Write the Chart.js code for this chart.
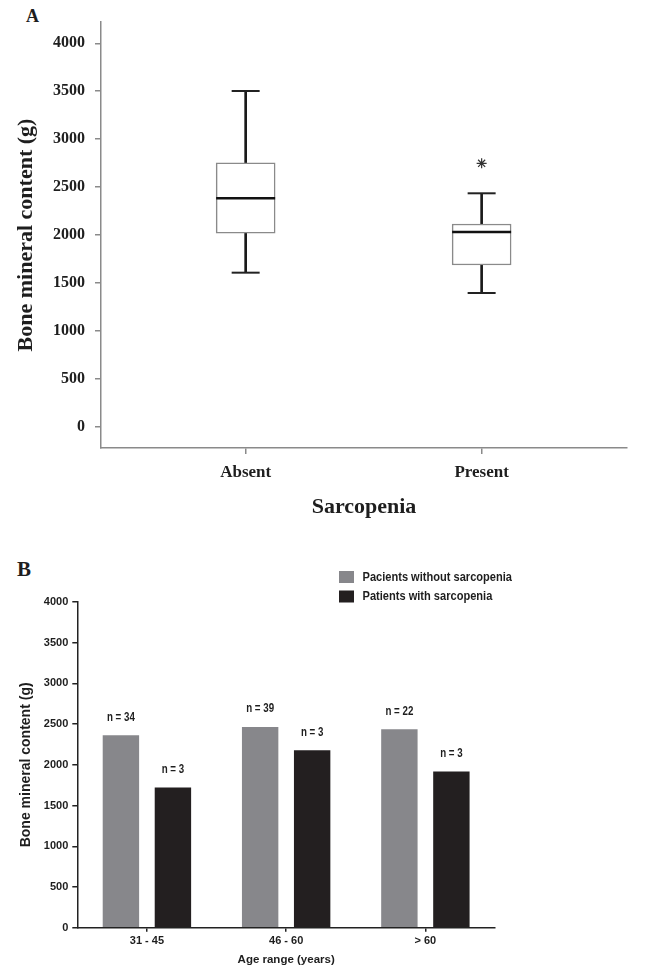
<!DOCTYPE html>
<html>
<head>
<meta charset="utf-8">
<script src="https://cdn.jsdelivr.net/npm/chart.js@4.4.1/dist/chart.umd.min.js"></script>
<style>
  body { margin: 0; background: #fff; width: 653px; height: 968px; position: relative; overflow: hidden; }
  .panel { position: absolute; font-family: 'Liberation Serif', serif; font-weight: bold; color: #1e1e1e; }
  #wrapA { position: absolute; left: 0; top: 0; width: 653px; height: 525px; }
  #wrapB { position: absolute; left: 0; top: 530px; width: 653px; height: 438px; }
</style>
</head>
<body>
<div class="panel" style="left:26px; top:6px; font-size:18px;">A</div>
<div class="panel" style="left:17px; top:557px; font-size:21px;">B</div>
<div id="wrapA"><canvas id="boxChart" width="653" height="525"></canvas></div>
<div id="wrapB"><canvas id="barChart" width="653" height="438"></canvas></div>
<script>
// panel A - box plot values (g)
const groupsA = ['Absent', 'Present'];
const whiskerLow = [1607, 1395];
const quartile1 = [2018, 1687];
const medians = [2383, 2031];
const quartile3 = [2754, 2115];
const whiskerHigh = [3502, 2435];
const outliers = [null, 2748];
const yTicksA = [0, 500, 1000, 1500, 2000, 2500, 3000, 3500, 4000];

// panel B - mean bone mineral content by age range
const ageRanges = ['31 - 45', '46 - 60', '> 60'];
const seriesNames = ['Pacients without sarcopenia', 'Patients with sarcopenia'];
const withoutSarcopenia = [2364, 2466, 2438];
const withSarcopenia = [1723, 2180, 1919];
const nWithout = ['n = 34', 'n = 39', 'n = 22'];
const nWith = ['n = 3', 'n = 3', 'n = 3'];

const serif = "'Liberation Serif', 'Times New Roman', serif";
const sans = "'Liberation Sans', Arial, sans-serif";
const ink = '#1e1e1e';

const pts = (vals) => vals.map((v, i) => ({ x: i + 1, y: v })).filter(p => p.y !== null);

// Box plot: boxes + whiskers are floating bars, caps / median / outlier are point markers
new Chart(document.getElementById('boxChart'), {
    type: 'bar',
    data: {
        datasets: [
            {
                type: 'scatter',
                data: pts(medians),
                pointStyle: 'line',
                pointRadius: 29.5,
                borderColor: '#111',
                pointBorderWidth: 2.5
            },
            {
                type: 'scatter',
                data: pts(whiskerHigh).concat(pts(whiskerLow)),
                pointStyle: 'line',
                pointRadius: 14,
                borderColor: '#222',
                pointBorderWidth: 2
            },
            {
                type: 'scatter',
                data: pts(outliers),
                pointStyle: 'star',
                pointRadius: 5,
                borderColor: '#333',
                pointBorderWidth: 1.2
            },
            {
                data: groupsA.map((g, i) => ({ x: i + 1, y: [quartile1[i], quartile3[i]] })),
                backgroundColor: '#fff',
                borderColor: '#8a8a8a',
                borderWidth: 1.5,
                borderSkipped: false,
                barThickness: 59,
                grouped: false
            },
            {
                data: groupsA.map((g, i) => ({ x: i + 1, y: [quartile3[i], whiskerHigh[i]] }))
                    .concat(groupsA.map((g, i) => ({ x: i + 1, y: [whiskerLow[i], quartile1[i]] }))),
                backgroundColor: '#1a1a1a',
                borderWidth: 0,
                barThickness: 2,
                grouped: false
            }
        ]
    },
    options: {
        responsive: false,
        animation: false,
        events: [],
        layout: { autoPadding: false, padding: { left: 0, top: 22, right: 26, bottom: 0 } },
        plugins: { legend: { display: false }, tooltip: { enabled: false } },
        scales: {
            x: {
                type: 'linear',
                min: 0.387,
                max: 2.616,
                offset: false,
                afterBuildTicks: (s) => { s.ticks = groupsA.map((g, i) => ({ value: i + 1 })); },
                afterFit: (s) => { s.height = 77; },
                ticks: {
                    callback: (v) => groupsA[v - 1],
                    font: { family: serif, size: 17, weight: 'bold' },
                    color: ink,
                    padding: 8,
                    maxRotation: 0,
                    autoSkip: false
                },
                grid: { offset: false, drawOnChartArea: false, tickLength: 6, color: '#8a8a8a', lineWidth: 1.5 },
                border: { color: '#8a8a8a', width: 1.5 },
                title: {
                    display: true,
                    text: 'Sarcopenia',
                    font: { family: serif, size: 22, weight: 'bold' },
                    color: ink,
                    padding: { top: 0, bottom: 4 }
                }
            },
            y: {
                min: -222,
                max: 4222,
                afterBuildTicks: (s) => { s.ticks = yTicksA.map(v => ({ value: v })); },
                afterFit: (s) => { s.width = 101; },
                ticks: {
                    callback: (v) => String(v),
                    font: { family: serif, size: 16, weight: 'bold' },
                    color: ink,
                    padding: 10
                },
                grid: { drawOnChartArea: false, tickLength: 6, color: '#8a8a8a', lineWidth: 1.5 },
                border: { color: '#8a8a8a', width: 1.5 },
                title: {
                    display: true,
                    text: 'Bone mineral content (g)',
                    font: { family: serif, size: 22, weight: 'bold' },
                    color: ink,
                    padding: { top: 13, bottom: 0 }
                }
            }
        }
    }
});

// draws text squeezed horizontally, the original uses a condensed face
function narrowText(ctx, text, x, y, squeeze) {
    ctx.save();
    ctx.translate(x, y);
    ctx.scale(squeeze, 1);
    ctx.fillText(text, 0, 0);
    ctx.restore();
}

// n labels over the bars + stacked legend at top right
const barExtras = {
    id: 'barExtras',
    afterDatasetsDraw(chart) {
        const ctx = chart.ctx;
        const counts = [nWithout, nWith];
        ctx.save();
        ctx.fillStyle = ink;
        ctx.textAlign = 'center';
        ctx.textBaseline = 'middle';
        ctx.font = 'bold 12.5px ' + sans;
        chart.data.datasets.forEach((ds, d) => {
            chart.getDatasetMeta(d).data.forEach((bar, i) => {
                narrowText(ctx, counts[d][i], bar.x, bar.y - 18, 0.78);
            });
        });
        ctx.textAlign = 'left';
        ctx.font = 'bold 13.5px ' + sans;
        chart.data.datasets.forEach((ds, d) => {
            const y = 47 + d * 19.5;
            ctx.fillStyle = ds.backgroundColor;
            ctx.fillRect(339, y - 6, 15, 12);
            ctx.fillStyle = ink;
            narrowText(ctx, ds.label, 362.5, y, 0.82);
        });
        ctx.restore();
    }
};

new Chart(document.getElementById('barChart'), {
    type: 'bar',
    data: {
        labels: ageRanges,
        datasets: [
            {
                label: seriesNames[0],
                data: withoutSarcopenia,
                backgroundColor: '#87878b',
                categoryPercentage: 0.747,
                barPercentage: 0.7
            },
            {
                label: seriesNames[1],
                data: withSarcopenia,
                backgroundColor: '#231f20',
                categoryPercentage: 0.747,
                barPercentage: 0.7
            }
        ]
    },
    plugins: [barExtras],
    options: {
        responsive: false,
        animation: false,
        events: [],
        layout: { autoPadding: false, padding: { left: 0, top: 72, right: 158, bottom: 0 } },
        plugins: { legend: { display: false }, tooltip: { enabled: false } },
        scales: {
            x: {
                afterFit: (s) => { s.height = 40.3; },
                ticks: { font: { family: sans, size: 11, weight: 'bold' }, color: ink, padding: 3 },
                grid: { offset: false, drawOnChartArea: false, tickLength: 4, color: '#222', lineWidth: 1.5 },
                border: { color: '#222', width: 1.5 },
                title: {
                    display: true,
                    text: 'Age range (years)',
                    font: { family: sans, size: 11.5, weight: 'bold' },
                    color: ink,
                    padding: { top: 0, bottom: 1 }
                }
            },
            y: {
                min: 0,
                max: 4000,
                afterFit: (s) => { s.width = 77.3; },
                ticks: {
                    stepSize: 500,
                    callback: (v) => String(v),
                    font: { family: sans, size: 11, weight: 'bold' },
                    color: ink,
                    padding: 4
                },
                grid: { drawOnChartArea: false, tickLength: 5, color: '#222', lineWidth: 1.5 },
                border: { color: '#222', width: 1.5 },
                title: {
                    display: true,
                    text: 'Bone mineral content (g)',
                    font: { family: sans, size: 14, weight: 'bold' },
                    color: ink,
                    padding: { top: 18, bottom: 0 }
                }
            }
        }
    }
});
</script>
</body>
</html>
